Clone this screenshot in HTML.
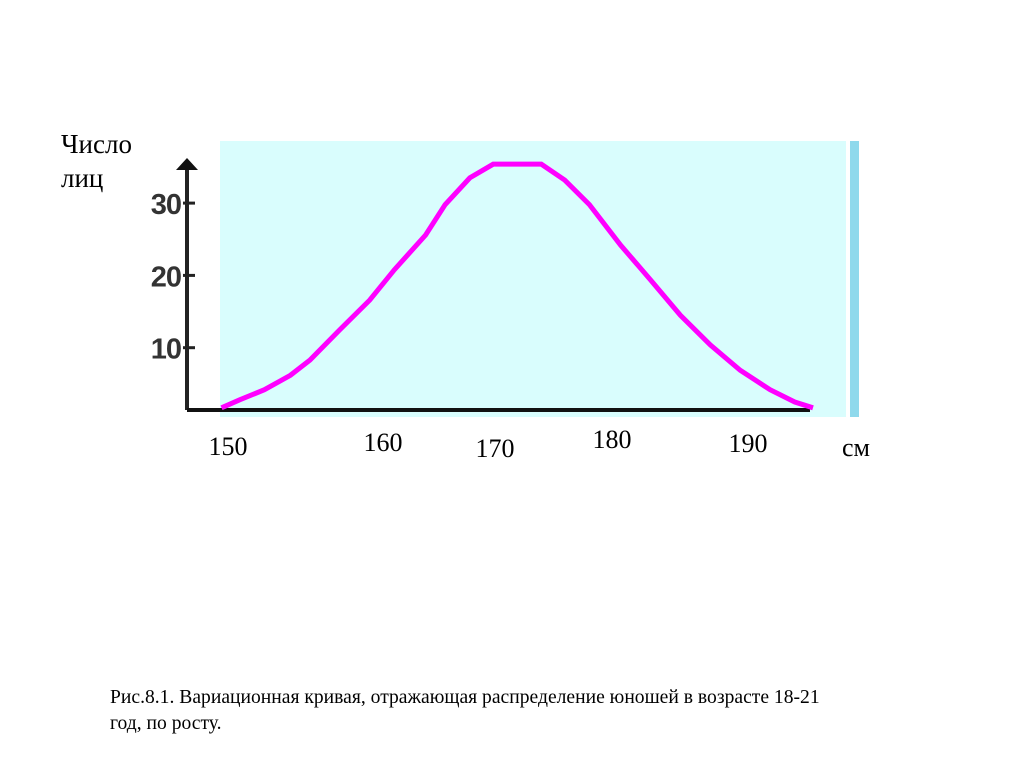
<!DOCTYPE html>
<html><head><meta charset="utf-8"><style>
body{margin:0;background:#fff;width:1024px;height:767px;overflow:hidden;position:relative;font-family:"Liberation Serif",serif}
.t{position:absolute;white-space:nowrap}
</style></head><body>
<div class="t" style="left:61px;top:127px;font-size:27px;line-height:34px">Число<br>лиц</div>
<svg id="c" width="1024" height="767" style="position:absolute;left:0;top:0"></svg>
<div class="t" style="left:110px;top:685px;font-size:19.6px;line-height:26px">Рис.8.1. Вариационная кривая, отражающая распределение юношей в возрасте 18-21<br>год, по росту.</div>
<script>
const heights=[149.5,150.9,152.8,154.8,156.3,158.6,160.9,162.8,165.2,166.7,168.6,170.4,174.1,175.9,177.8,180.2,182.5,184.8,187.1,189.4,191.7,193.6,195.0];
const counts=[2.1,3.2,4.6,6.6,8.7,12.9,17.0,21.2,26.0,30.2,33.9,35.8,35.8,33.6,30.2,24.6,19.8,14.9,10.8,7.3,4.6,2.9,2.1];
const yTicks=[10,20,30];
const xLabels=["150","160","170","180","190"];
const NS="http://www.w3.org/2000/svg";
const svg=document.getElementById('c');
const X=v=>228+(v-150)*13;
const Y=v=>423-v*7.23;
function mk(t,a,txt){const e=document.createElementNS(NS,t);for(const k in a)e.setAttribute(k,a[k]);if(txt!=null)e.textContent=txt;svg.appendChild(e);return e;}
let e;
e=mk('rect',{x:220,y:141,width:626,height:276,fill:'#d9fdfd'});


e=mk('rect',{x:850,y:141,width:9,height:276,fill:'#8fd9ec'});


e=mk('line',{x1:187,y1:168,x2:187,y2:410,stroke:'#222',"stroke-width":4});


e=mk('polygon',{points:'176,170 187,158 198,170',fill:'#111'});


e=mk('line',{x1:187,y1:410,x2:810,y2:410,stroke:'#111',"stroke-width":4});


yTicks.forEach(v=>{
 const y=Y(v)-3;
 e=mk('line',{x1:183,y1:y,x2:195,y2:y,stroke:'#222',"stroke-width":3});
 
 
 e=mk('text',{x:181,y:y+11,"text-anchor":'end',"font-family":'Liberation Sans, sans-serif',"font-weight":'bold',"font-size":29,fill:'#333',"letter-spacing":'-1'},String(v));
 
 
});
const xPos=[[228,455],[383,451],[495,457],[612,448],[748,452]];
xLabels.forEach((s,i)=>{
 e=mk('text',{x:xPos[i][0],y:xPos[i][1],"text-anchor":'middle',"font-size":26,fill:'#000'},s);
 
 
});
e=mk('text',{x:856,y:456,"text-anchor":'middle',"font-size":26,fill:'#000'},'см');


e=mk('polyline',{points:heights.map((h,i)=>X(h)+','+Y(counts[i])).join(' '),fill:'none',stroke:'#ff00ff',"stroke-width":5});


</script>
</body></html>
